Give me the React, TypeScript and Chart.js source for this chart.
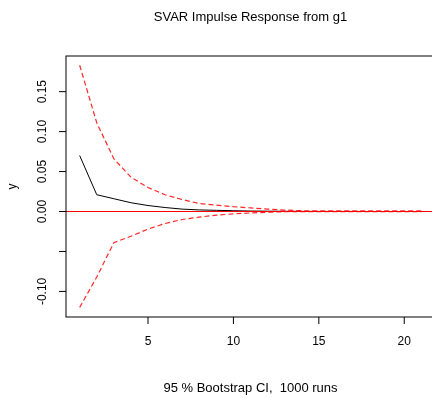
import { useEffect, useRef } from "react";
import { Chart, registerables } from "chart.js";

Chart.register(...registerables);

const horizon = [1, 2, 3, 4, 5, 6, 7, 8, 9, 10, 11, 12, 13, 14, 15, 16, 17, 18, 19, 20, 21];
const irf = [0.070, 0.021, 0.016, 0.011, 0.0075, 0.005, 0.003, 0.002, 0.0015, 0.001, 0.0006, 0.0004, 0.0003, 0.0002, 0.0001, 0.0001, 0.0001, 0, 0, 0, 0];
const upper = [0.183, 0.111, 0.066, 0.043, 0.030, 0.021, 0.015, 0.010, 0.008, 0.006, 0.0045, 0.003, 0.0018, 0.001, 0.0008, 0.0007, 0.0007, 0.0007, 0.0007, 0.0007, 0.0007];
const lower = [-0.120, -0.082, -0.039, -0.031, -0.022, -0.015, -0.010, -0.007, -0.0045, -0.003, -0.0018, -0.0009, -0.0003, -0.0001, -0.0001, -0.0001, -0.0001, -0.0001, -0.0001, -0.0001, -0.0001];

const xTicks = [5, 10, 15, 20];
const xTickLabels = ["5", "10", "15", "20"];
const yTicks = [-0.1, -0.05, 0, 0.05, 0.1, 0.15];
const yTickLabels = ["-0.10", "", "0.00", "0.05", "0.10", "0.15"];
const xRange = [0.2, 21.8];
const yRange = [-0.132, 0.1946];
const zeroLine = [0, 0];

const titleText = "SVAR Impulse Response from g1";
const subtitleText = "95 % Bootstrap CI,  1000 runs";
const yAxisLabel = "y";

const FONT = '"Liberation Sans", Arial, sans-serif';

const axesPlugin = {
  id: "rAxes",
  afterDraw(chart: any) {
    const { ctx, chartArea, scales } = chart;
    const { left, right, top, bottom } = chartArea;
    const xs = scales.x;
    const ys = scales.y;
    ctx.save();
    ctx.strokeStyle = "#000";
    ctx.lineWidth = 1;
    ctx.strokeRect(left, top, right - left, bottom - top);

    ctx.fillStyle = "#000";
    ctx.font = `12px ${FONT}`;
    ctx.textAlign = "center";
    ctx.textBaseline = "middle";
    xTicks.forEach((v, i) => {
      const px = xs.getPixelForValue(v);
      ctx.beginPath();
      ctx.moveTo(px, bottom);
      ctx.lineTo(px, bottom + 7);
      ctx.stroke();
      ctx.fillText(xTickLabels[i], px, bottom + 25);
    });

    yTicks.forEach((v, i) => {
      const py = ys.getPixelForValue(v);
      ctx.beginPath();
      ctx.moveTo(left, py);
      ctx.lineTo(left - 7, py);
      ctx.stroke();
      if (yTickLabels[i]) {
        ctx.save();
        ctx.translate(left - 23, py);
        ctx.rotate(-Math.PI / 2);
        ctx.fillText(yTickLabels[i], 0, 0);
        ctx.restore();
      }
    });

    ctx.save();
    ctx.translate(13, (top + bottom) / 2);
    ctx.rotate(-Math.PI / 2);
    ctx.fillText(yAxisLabel, 0, 0);
    ctx.restore();

    const cx = (left + right) / 2;
    ctx.font = `13px ${FONT}`;
    ctx.fillText(titleText, cx, 17);
    ctx.fillText(subtitleText, cx, 388);
    ctx.restore();
  },
};

export default function App() {
  const ref = useRef<HTMLCanvasElement | null>(null);
  useEffect(() => {
    if (!ref.current) return;
    const toXY = (ys: number[]) => horizon.map((h, i) => ({ x: h, y: ys[i] }));
    const chart = new Chart(ref.current, {
      type: "line",
      data: {
        datasets: [
          {
            data: xRange.map((x, i) => ({ x, y: zeroLine[i] })),
            borderColor: "#ff0000",
            borderWidth: 1,
            pointRadius: 0,
          },
          {
            data: toXY(upper),
            borderColor: "rgba(255,0,0,0.85)",
            borderWidth: 1.2,
            borderDash: [5, 3],
            pointRadius: 0,
          },
          {
            data: toXY(lower),
            borderColor: "rgba(255,0,0,0.85)",
            borderWidth: 1.2,
            borderDash: [5, 3],
            pointRadius: 0,
          },
          {
            data: toXY(irf),
            borderColor: "#000000",
            borderWidth: 1,
            pointRadius: 0,
          },
        ],
      },
      options: {
        responsive: false,
        maintainAspectRatio: false,
        animation: false,
        layout: { padding: { left: 66, right: 5, top: 56, bottom: 81 } },
        scales: {
          x: { type: "linear", display: false, min: xRange[0], max: xRange[1] },
          y: { type: "linear", display: false, min: yRange[0], max: yRange[1] },
        },
        plugins: { legend: { display: false }, tooltip: { enabled: false }, title: { display: false } },
        elements: { line: { tension: 0 } },
      },
      plugins: [axesPlugin],
    });
    return () => chart.destroy();
  }, []);
  return (
    <div
      style={{
        position: "fixed",
        left: 0,
        top: 0,
        width: 432,
        height: 398,
        overflow: "hidden",
        background: "#fff",
      }}
    >
      <canvas ref={ref} width={440} height={398} style={{ display: "block" }} />
    </div>
  );
}
